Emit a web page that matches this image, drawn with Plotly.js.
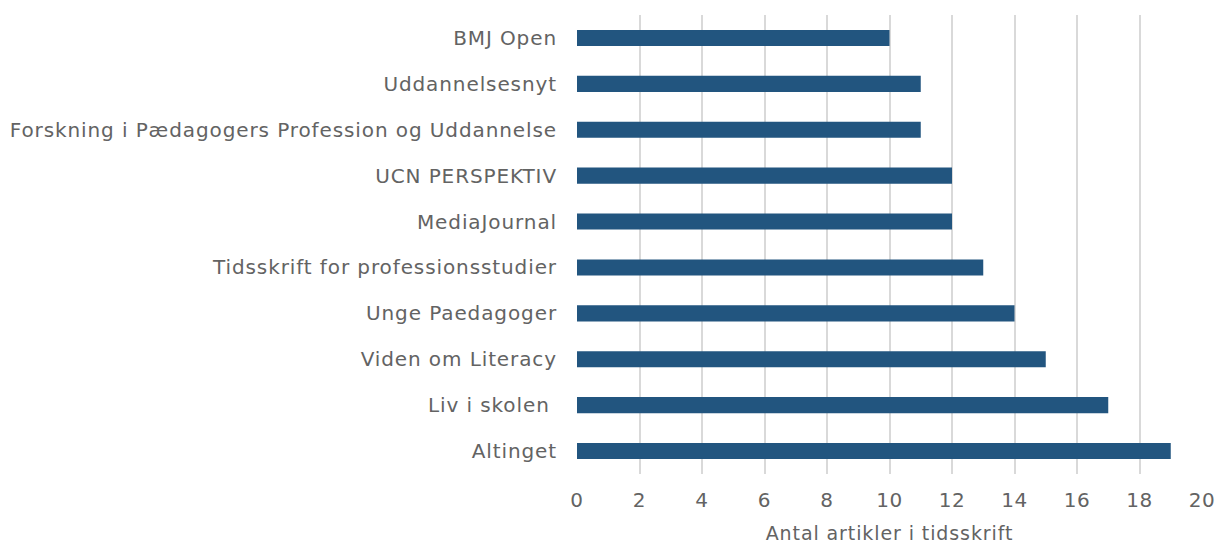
<!DOCTYPE html>
<html><head><meta charset="utf-8">
<script src="https://cdn.plot.ly/plotly-3.0.1.min.js"></script>
<style>html,body{margin:0;padding:0;background:#fff}#chart{width:1216px;height:544px}
#chart .ytick text{letter-spacing:0.9px}
#chart .xtick text{letter-spacing:0.6px}
#chart .g-xtitle text{letter-spacing:0.9px}</style>
</head><body><div id="chart"></div>
<script>
const categories = ["Altinget","Liv i skolen ","Viden om Literacy","Unge Paedagoger","Tidsskrift for professionsstudier","MediaJournal","UCN PERSPEKTIV","Forskning i Pædagogers Profession og Uddannelse","Uddannelsesnyt","BMJ Open"];
const values = [19,17,15,14,13,12,12,11,11,10];
const xTitle = "Antal artikler i tidsskrift";

const fam = "DejaVu Sans, sans-serif";
const col = "#636363";
Plotly.newPlot("chart", [{
  type: "bar", orientation: "h",
  y: categories, x: values,
  marker: {color: "#22557f"},
  hoverinfo: "x+y"
}], {
  width: 1216, height: 544,
  margin: {l: 577, r: 14, t: 15, b: 70},
  bargap: 0.65,
  paper_bgcolor: "#fff", plot_bgcolor: "#fff",
  font: {family: fam, size: 19, color: col},
  xaxis: {
    range: [0, 20], dtick: 2, tick0: 0,
    showgrid: true, gridcolor: "#d9d9d9", gridwidth: 2,
    zeroline: false, showline: false,
    ticks: "", ticklen: 0, ticklabelstandoff: 12,
    tickfont: {family: fam, size: 20, color: col},
    title: {text: xTitle, font: {family: fam, size: 19, color: col}, standoff: 18},
    fixedrange: true
  },
  yaxis: {
    type: "category", autorange: false, range: [-0.5, 9.5],
    showgrid: false, zeroline: false, showline: false,
    ticks: "", ticklen: 0, ticklabelstandoff: 19,
    tickfont: {family: fam, size: 20, color: col},
    fixedrange: true
  },
  showlegend: false
}, {displayModeBar: false, staticPlot: true});
</script></body></html>
